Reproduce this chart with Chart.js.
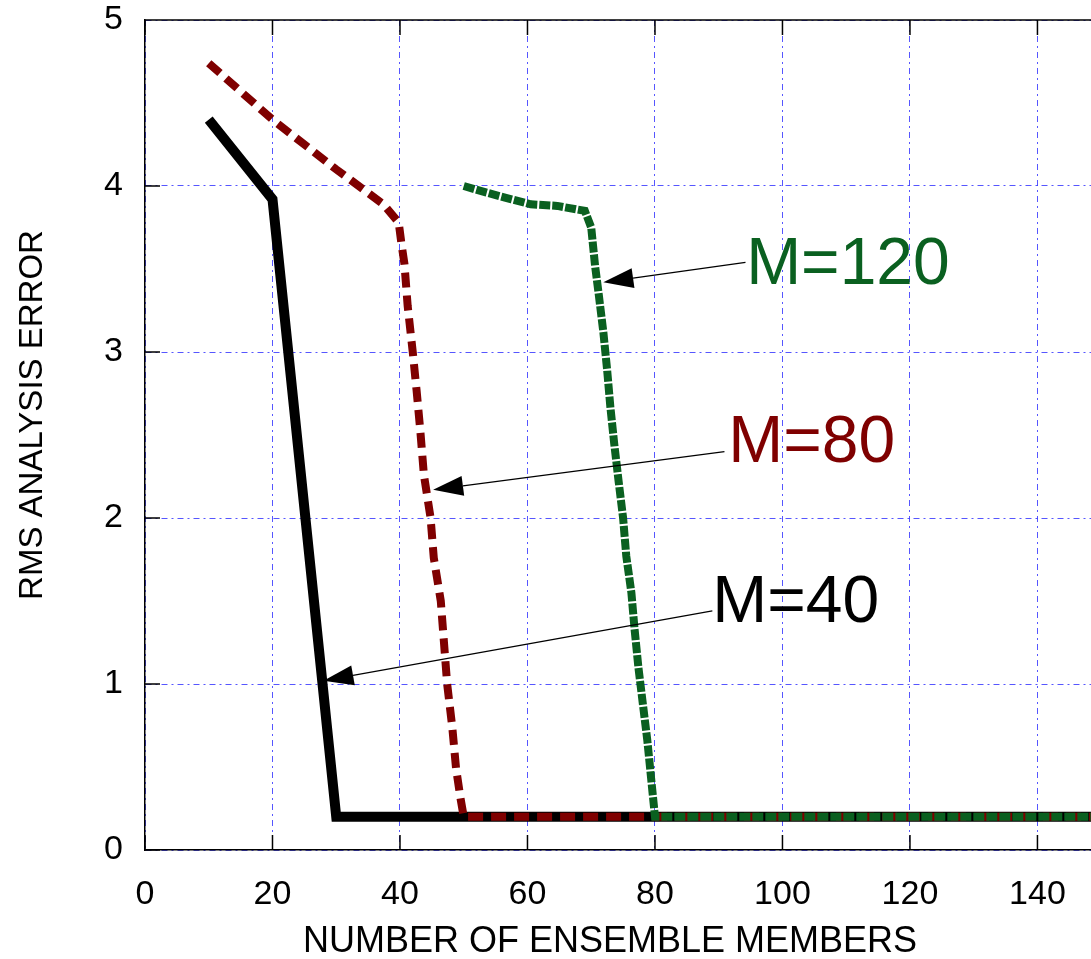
<!DOCTYPE html>
<html>
<head>
<meta charset="utf-8">
<script src="https://cdn.jsdelivr.net/npm/chart.js@4.4.1/dist/chart.umd.min.js"></script>
<style>
    html, body { margin: 0; padding: 0; background: #fff; }
    #wrap { width: 1091px; height: 959px; }
</style>
</head>
<body>
<div id="wrap"><canvas id="chart" width="1091" height="959"></canvas></div>
<script>
// RMS analysis error vs. number of ensemble members
const m40X = [10, 20, 30, 150];
const m40Y = [4.4, 3.92, 0.2, 0.2];

const m80X = [10, 20, 30, 37.4, 39.8, 40.2, 40.7, 41.2, 42.0, 42.6, 43.2, 43.75, 44.8, 45.3, 46.4, 46.9, 47.4, 48.2, 48.8, 49.5, 50, 150];
const m80Y = [4.74, 4.4, 4.1, 3.89, 3.78, 3.66, 3.53, 3.28, 3.0, 2.77, 2.52, 2.26, 2.0, 1.76, 1.5, 1.25, 1.0, 0.74, 0.49, 0.31, 0.2, 0.2];

const m120X = [50, 53.6, 57.5, 60.5, 64.7, 69, 70, 70.6, 71.2, 71.9, 72.5, 73.0, 73.6, 74.3, 75.0, 75.5, 76.3, 76.8, 77.4, 78.1, 78.8, 79.4, 80.0, 150];
const m120Y = [4.0, 3.96, 3.92, 3.89, 3.88, 3.85, 3.75, 3.52, 3.34, 3.12, 2.89, 2.67, 2.45, 2.22, 2.0, 1.77, 1.55, 1.33, 1.10, 0.88, 0.66, 0.43, 0.2, 0.2];

const xTicks = [0, 20, 40, 60, 80, 100, 120, 140];
const yTicks = [0, 1, 2, 3, 4, 5];

const FONT = "'Liberation Sans', Arial, sans-serif";
const GREEN = '#0a6020';
const RED = '#7f0000';

// arrow callouts, in data units
const callouts = [
    { text: 'M=120', color: GREEN, tip: [71.9, 3.42], tail: [94.2, 3.54], at: [94.3, 3.41] },
    { text: 'M=80', color: RED, tip: [45.2, 2.17], tail: [90.9, 2.40], at: [91.5, 2.337] },
    { text: 'M=40', color: '#000', tip: [28.0, 1.02], tail: [89.0, 1.44], at: [89.0, 1.373] }
];

const pts = (xs, ys) => xs.map((x, i) => ({ x, y: ys[i] }));

const framePlugin = {
    id: 'frame',
    afterDraw(chart) {
        const { ctx, chartArea: a, scales: { x, y } } = chart;
        ctx.save();

        // top border + inward ticks
        ctx.strokeStyle = '#000';
        ctx.lineWidth = 1.5;
        ctx.beginPath();
        ctx.moveTo(a.left, a.top); ctx.lineTo(a.right, a.top);
        xTicks.forEach(v => {
            const px = x.getPixelForValue(v);
            ctx.moveTo(px, a.bottom); ctx.lineTo(px, a.bottom - 15);
            ctx.moveTo(px, a.top); ctx.lineTo(px, a.top + 15);
        });
        yTicks.forEach(v => {
            const py = y.getPixelForValue(v);
            ctx.moveTo(a.left, py); ctx.lineTo(a.left + 15, py);
        });
        ctx.stroke();

        // callouts
        callouts.forEach(c => {
            const tx = x.getPixelForValue(c.tip[0]), ty = y.getPixelForValue(c.tip[1]);
            const sx = x.getPixelForValue(c.tail[0]), sy = y.getPixelForValue(c.tail[1]);
            const ang = Math.atan2(sy - ty, sx - tx);
            const len = 30, hw = 10;
            const bx = tx + Math.cos(ang) * len, by = ty + Math.sin(ang) * len;
            ctx.strokeStyle = '#000';
            ctx.lineWidth = 1.2;
            ctx.beginPath();
            ctx.moveTo(bx, by); ctx.lineTo(sx, sy);
            ctx.stroke();
            ctx.fillStyle = '#000';
            ctx.beginPath();
            ctx.moveTo(tx, ty);
            ctx.lineTo(bx - Math.sin(ang) * hw, by + Math.cos(ang) * hw);
            ctx.lineTo(bx + Math.sin(ang) * hw, by - Math.cos(ang) * hw);
            ctx.closePath();
            ctx.fill();

            ctx.fillStyle = c.color;
            ctx.font = '66px ' + FONT;
            ctx.textAlign = 'left';
            ctx.textBaseline = 'alphabetic';
            ctx.fillText(c.text, x.getPixelForValue(c.at[0]), y.getPixelForValue(c.at[1]));
        });

        // axis titles
        ctx.fillStyle = '#000';
        ctx.font = '36px ' + FONT;
        ctx.textAlign = 'center';
        ctx.textBaseline = 'alphabetic';
        ctx.fillText('NUMBER OF ENSEMBLE MEMBERS', 610, 952);

        ctx.translate(42, 415);
        ctx.rotate(-Math.PI / 2);
        ctx.font = '33px ' + FONT;
        ctx.fillText('RMS ANALYSIS ERROR', 0, 0);
        ctx.restore();
    }
};

new Chart(document.getElementById('chart'), {
    type: 'line',
    data: {
        datasets: [
            { label: 'M=120', data: pts(m120X, m120Y), borderColor: GREEN, borderWidth: 8, borderDash: [11, 2], order: 0 },
            { label: 'M=80', data: pts(m80X, m80Y), borderColor: RED, borderWidth: 8, borderDash: [15, 8], order: 1 },
            { label: 'M=40', data: pts(m40X, m40Y), borderColor: '#000', borderWidth: 10, order: 2 }
        ]
    },
    options: {
        responsive: false,
        animation: false,
        layout: { padding: { top: 20, right: 0, left: 0, bottom: 0 } },
        elements: {
            point: { radius: 0 },
            line: { tension: 0, borderCapStyle: 'butt', borderJoinStyle: 'miter', fill: false }
        },
        plugins: { legend: { display: false }, tooltip: { enabled: false } },
        scales: {
            x: {
                type: 'linear',
                min: 0,
                max: 148.4,
                afterBuildTicks: s => { s.ticks = xTicks.map(v => ({ value: v })); },
                afterFit: s => { s.height = 109; s.paddingLeft = 0; s.paddingRight = 0; },
                ticks: { color: '#000', font: { family: FONT, size: 34 }, padding: 24, maxRotation: 0 },
                grid: { color: 'rgba(30,30,255,0.75)', lineWidth: 1, drawTicks: false },
                border: { display: true, color: '#000', width: 1.5, dash: [6, 4, 2, 4] }
            },
            y: {
                min: 0,
                max: 5,
                afterBuildTicks: s => { s.ticks = yTicks.map(v => ({ value: v })); },
                afterFit: s => { s.width = 145; s.paddingTop = 0; s.paddingBottom = 0; },
                ticks: { color: '#000', font: { family: FONT, size: 34 }, padding: 22 },
                grid: { color: 'rgba(30,30,255,0.75)', lineWidth: 1, drawTicks: false },
                border: { display: true, color: '#000', width: 1.5, dash: [6, 4, 2, 4] }
            }
        }
    },
    plugins: [framePlugin]
});
</script>
</body>
</html>
